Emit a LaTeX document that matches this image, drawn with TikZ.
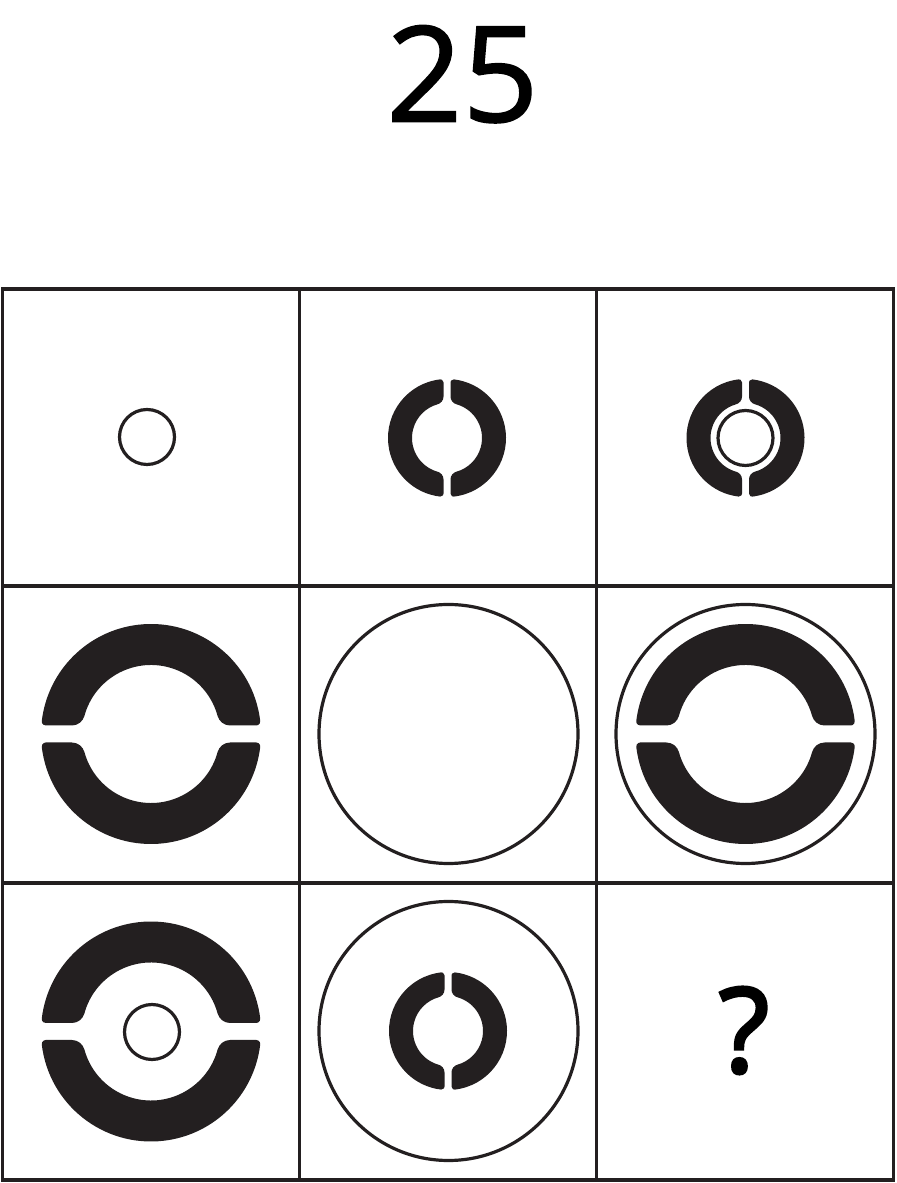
\documentclass[tikz,border=0pt]{standalone}
\usepackage{fontspec}
\setmainfont{Open Sans}
\newfontfamily\boldishfont[FakeBold=1.2]{Open Sans}
\newfontfamily\boldqfont[FakeBold=2.5]{Open Sans}
\definecolor{ink}{RGB}{35,31,32}
\newcommand\ringpiece[8]{%
  \pgfmathsetmacro\rpXf{sqrt((#5+#7)^2-(#6+#7)^2)}%
  \pgfmathsetmacro\rpPsi{atan((#6+#7)/\rpXf)}%
  \pgfmathsetmacro\rpXo{sqrt((#4-#8)^2-(#6+#8)^2)}%
  \pgfmathsetmacro\rpPhi{atan((#6+#8)/\rpXo)}%
  \begin{scope}[shift={(#1,#2)},rotate=#3]
   \fill[ink] (\rpXf,#6) -- (\rpXo,#6)
     arc[start angle=-90,end angle=\rpPhi,radius=#8]
     arc[start angle=\rpPhi,end angle=180-\rpPhi,radius=#4]
     arc[start angle=180-\rpPhi,end angle=270,radius=#8]
     -- (-\rpXf,#6)
     arc[start angle=-90,end angle=-\rpPsi,radius=#7]
     arc[start angle=180-\rpPsi,end angle=\rpPsi,radius=#5]
     arc[start angle=180+\rpPsi,end angle=270,radius=#7]
     -- cycle;
  \end{scope}}
\newcommand\bigpair[2]{\ringpiece{#1}{#2}{0}{110}{69}{8.5}{13}{4}\ringpiece{#1}{#2}{180}{110}{69}{8.5}{13}{4}}
\newcommand\smallpair[2]{\ringpiece{#1}{#2}{90}{59}{35}{3.5}{8}{3}\ringpiece{#1}{#2}{-90}{59}{35}{3.5}{8}{3}}
\tikzset{
  gridline/.style={draw=ink,line width=1.75pt},
  ringline/.style={draw=ink,line width=1.6pt},
}
\begin{document}
\begin{tikzpicture}[x=0.5pt,y=0.5pt]
\useasboundingbox (0,0) rectangle (896,1183);
% title
\node[inner sep=0pt,font=\boldishfont\fontsize{66.5}{70}\selectfont] (title) at (462.5,1108.8) {25};
% grid
\draw[gridline] (2.5,3) rectangle (893.5,894);
\draw[gridline] (299.5,3) -- (299.5,894);
\draw[gridline] (596.5,3) -- (596.5,894);
\draw[gridline] (2.5,300) -- (893.5,300);
\draw[gridline] (2.5,597) -- (893.5,597);
% row 1
\draw[ringline] (147,746) circle[radius=27.5];
\smallpair{447}{745}
\smallpair{745.5}{745}
\draw[ringline] (745.5,745) circle[radius=27.5];
% row 2
\bigpair{151}{449}
\draw[ringline] (448.5,449) circle[radius=129.5];
\draw[ringline] (745.5,449) circle[radius=129.5];
\bigpair{745.5}{449}
% row 3
\bigpair{151}{151.5}
\draw[ringline] (152,151) circle[radius=27.5];
\draw[ringline] (448.5,152) circle[radius=129.5];
\smallpair{448}{152}
\node[inner sep=0pt,font=\boldqfont\fontsize{59}{62}\selectfont] (qmark) at (744,152.5) {?};
\end{tikzpicture}
\end{document}
